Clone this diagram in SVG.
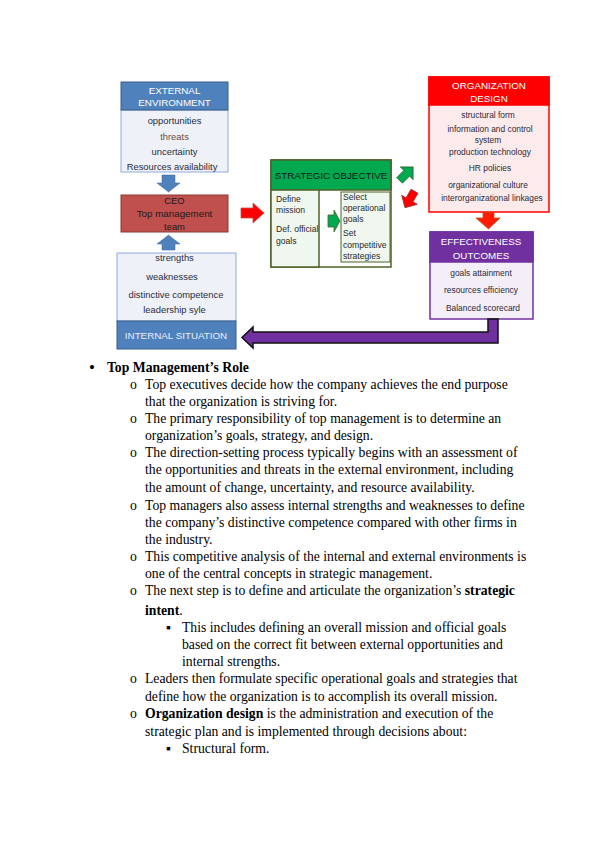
<svg xmlns="http://www.w3.org/2000/svg" width="599" height="848" viewBox="0 0 599 848">
<style>
.d{font-family:"Liberation Sans","DejaVu Sans",sans-serif;font-size:9.4px;fill:#2a2a3a;text-anchor:middle}
.o{font-size:8.4px}
.h{font-family:"Liberation Sans","DejaVu Sans",sans-serif;font-size:9.8px;fill:#fff;text-anchor:middle}
.s{font-family:"Liberation Sans","DejaVu Sans",sans-serif;font-size:8.6px;fill:#2a2a2a}
.b{font-family:"Liberation Serif","Times New Roman",serif;font-size:13.7px;fill:#000}
.bb{font-weight:bold}
</style>
<rect width="599" height="848" fill="#fff"/>

<g id="external">
<rect x="121" y="110" width="107" height="62" fill="#EEF2F8" stroke="#8EAADB" stroke-width="1"/>
<rect x="121" y="82" width="107" height="28" fill="#4F81BD" stroke="#385D8A" stroke-width="1"/>
<text class="h" x="174.5" y="94">EXTERNAL</text>
<text class="h" x="174.5" y="106">ENVIRONMENT</text>
<text class="d" x="174.5" y="124">opportunities</text>
<text class="d" x="174.5" y="140" style="fill:#6b4a3a">threats</text>
<text class="d" x="174.5" y="155">uncertainty</text>
<text class="d" x="172" y="170">Resources availability</text>
</g>

<g id="ceo">
<rect x="121" y="195" width="107" height="37" fill="#C0504D" stroke="#8C3836" stroke-width="1"/>
<text class="d" x="174.5" y="204" style="fill:#1a1a1a">CEO</text>
<text class="d" x="174.5" y="217" style="fill:#1a1a1a;font-size:9.8px">Top management</text>
<text class="d" x="174.5" y="230" style="fill:#1a1a1a">team</text>
</g>

<g id="internal">
<rect x="117" y="253" width="119" height="68" fill="#EEF2F8" stroke="#8EAADB" stroke-width="1"/>
<text class="d" x="174.5" y="261">strengths</text>
<text class="d" x="172" y="280">weaknesses</text>
<text class="d" x="176" y="298">distinctive competence</text>
<text class="d" x="174.5" y="313">leadership syle</text>
<rect x="117" y="321" width="119" height="28" fill="#4F81BD" stroke="#385D8A" stroke-width="1"/>
<text class="h" x="176" y="339" style="fill:#e8eef8">INTERNAL SITUATION</text>
</g>

<g id="strategic">
<rect x="271" y="160" width="120" height="107" fill="#fff" stroke="#4F6228" stroke-width="1.5"/>
<rect x="271" y="160" width="120" height="30" fill="#00A84F" stroke="#4F6228" stroke-width="1.5"/>
<text class="h" x="331" y="179" style="fill:#1a1a1a">STRATEGIC OBJECTIVE</text>
<rect x="271" y="190" width="48" height="77" fill="#EFF7EF" stroke="#4F6228" stroke-width="1.5"/>
<text class="s" x="276" y="202">Define</text>
<text class="s" x="276" y="213">mission</text>
<text class="s" x="276" y="232">Def. official</text>
<text class="s" x="276" y="244">goals</text>
<rect x="341" y="192" width="49" height="70" fill="#EFF7EF" stroke="#4F6228" stroke-width="1"/>
<text class="s" x="343" y="200">Select</text>
<text class="s" x="343" y="211">operational</text>
<text class="s" x="343" y="222">goals</text>
<text class="s" x="343" y="236">Set</text>
<text class="s" x="343" y="248">competitive</text>
<text class="s" x="343" y="259">strategies</text>
</g>

<g id="orgdesign">
<rect x="429" y="77" width="120" height="135" fill="#FDEBEB" stroke="#FF0000" stroke-width="1.5"/>
<rect x="429" y="77" width="120" height="28" fill="#FF0000" stroke="#FF0000" stroke-width="1.5"/>
<text class="h" x="489" y="89">ORGANIZATION</text>
<text class="h" x="489" y="102">DESIGN</text>
<text class="d o" x="488" y="118">structural form</text>
<text class="d o" x="490" y="132">information and control</text>
<text class="d o" x="488" y="143">system</text>
<text class="d o" x="490" y="155">production technology</text>
<text class="d o" x="490" y="171">HR policies</text>
<text class="d o" x="488" y="188">organizational culture</text>
<text class="d o" x="492" y="201">interorganizational linkages</text>
</g>

<g id="effectiveness">
<rect x="430" y="232" width="103" height="87" fill="#F3EEF8" stroke="#7030A0" stroke-width="1.5"/>
<rect x="430" y="232" width="103" height="30" fill="#7030A0" stroke="#7030A0" stroke-width="1.5"/>
<text class="h" x="481" y="245">EFFECTIVENESS</text>
<text class="h" x="481" y="259">OUTCOMES</text>
<text class="d o" x="481" y="276">goals attainment</text>
<text class="d o" x="481" y="293">resources efficiency</text>
<text class="d o" x="483" y="311">Balanced scorecard</text>
</g>

<g id="connectors">
<polygon points="162,175 175,175 175,183 180,183 168.5,192 157,183 162,183" fill="#4F81BD" stroke="#3A6496" stroke-width="0.5"/>
<polygon points="162,250 175,250 175,244 180,244 168.5,235 157,244 162,244" fill="#4F81BD" stroke="#3A6496" stroke-width="0.5"/>
<polygon points="241,208 253,208 253,203 264,213 253,223 253,218 241,218" fill="#FF0000" stroke="#C0504D" stroke-width="0.8"/>
<polygon points="328,215 334,215 334,210 340,221 334,232 334,227 328,227" fill="#00A84F" stroke="#4F6228" stroke-width="0.8"/>
<polygon points="-9,-4 1,-4 1,-9 10,0 1,9 1,4 -9,4" fill="#00A84F" stroke="#2E5E2E" stroke-width="0.8" transform="translate(406,174) rotate(-45)"/>
<polygon points="-9,-4 1,-4 1,-9 10,0 1,9 1,4 -9,4" fill="#FF0000" stroke="#A03030" stroke-width="0.8" transform="translate(410,199) rotate(120)"/>
<polygon points="483,212 494,212 494,218 500,218 488.5,229 476,218 483,218" fill="#FF1A00" stroke="#C05020" stroke-width="0.8"/>
<polygon points="488,319 498,319 498,343 253,343 253,348 242,337.5 253,327 253,332 488,332" fill="#7030A0" stroke="#111" stroke-width="1.5"/>
</g>

<g id="text">
<text class="b" x="89" y="373" style="font-size:17px">•</text>
<text class="b bb" x="107" y="372">Top Management’s Role</text>
<text class="b" x="130" y="389">o</text>
<text class="b" x="145" y="389">Top executives decide how the company achieves the end purpose</text>
<text class="b" x="145" y="406">that the organization is striving for.</text>
<text class="b" x="130" y="423">o</text>
<text class="b" x="145" y="423">The primary responsibility of top management is to determine an</text>
<text class="b" x="145" y="440">organization’s goals, strategy, and design.</text>
<text class="b" x="130" y="457">o</text>
<text class="b" x="145" y="457">The direction-setting process typically begins with an assessment of</text>
<text class="b" x="145" y="474">the opportunities and threats in the external environment, including</text>
<text class="b" x="145" y="492">the amount of change, uncertainty, and resource availability.</text>
<text class="b" x="130" y="510">o</text>
<text class="b" x="145" y="510">Top managers also assess internal strengths and weaknesses to define</text>
<text class="b" x="145" y="527">the company’s distinctive competence compared with other firms in</text>
<text class="b" x="145" y="544">the industry.</text>
<text class="b" x="130" y="561">o</text>
<text class="b" x="145" y="561">This competitive analysis of the internal and external environments is</text>
<text class="b" x="145" y="578">one of the central concepts in strategic management.</text>
<text class="b" x="130" y="595">o</text>
<text class="b" x="145" y="595">The next step is to define and articulate the organization’s <tspan class="bb">strategic</tspan></text>
<text class="b" x="145" y="615"><tspan class="bb">intent</tspan>.</text>
<text class="b" x="166" y="632">▪</text>
<text class="b" x="182" y="632">This includes defining an overall mission and official goals</text>
<text class="b" x="182" y="649">based on the correct fit between external opportunities and</text>
<text class="b" x="182" y="666">internal strengths.</text>
<text class="b" x="130" y="683">o</text>
<text class="b" x="145" y="683">Leaders then formulate specific operational goals and strategies that</text>
<text class="b" x="145" y="701">define how the organization is to accomplish its overall mission.</text>
<text class="b" x="130" y="718">o</text>
<text class="b" x="145" y="718"><tspan class="bb">Organization design</tspan> is the administration and execution of the</text>
<text class="b" x="145" y="736">strategic plan and is implemented through decisions about:</text>
<text class="b" x="166" y="753">▪</text>
<text class="b" x="182" y="753">Structural form.</text>
</g>
</svg>
